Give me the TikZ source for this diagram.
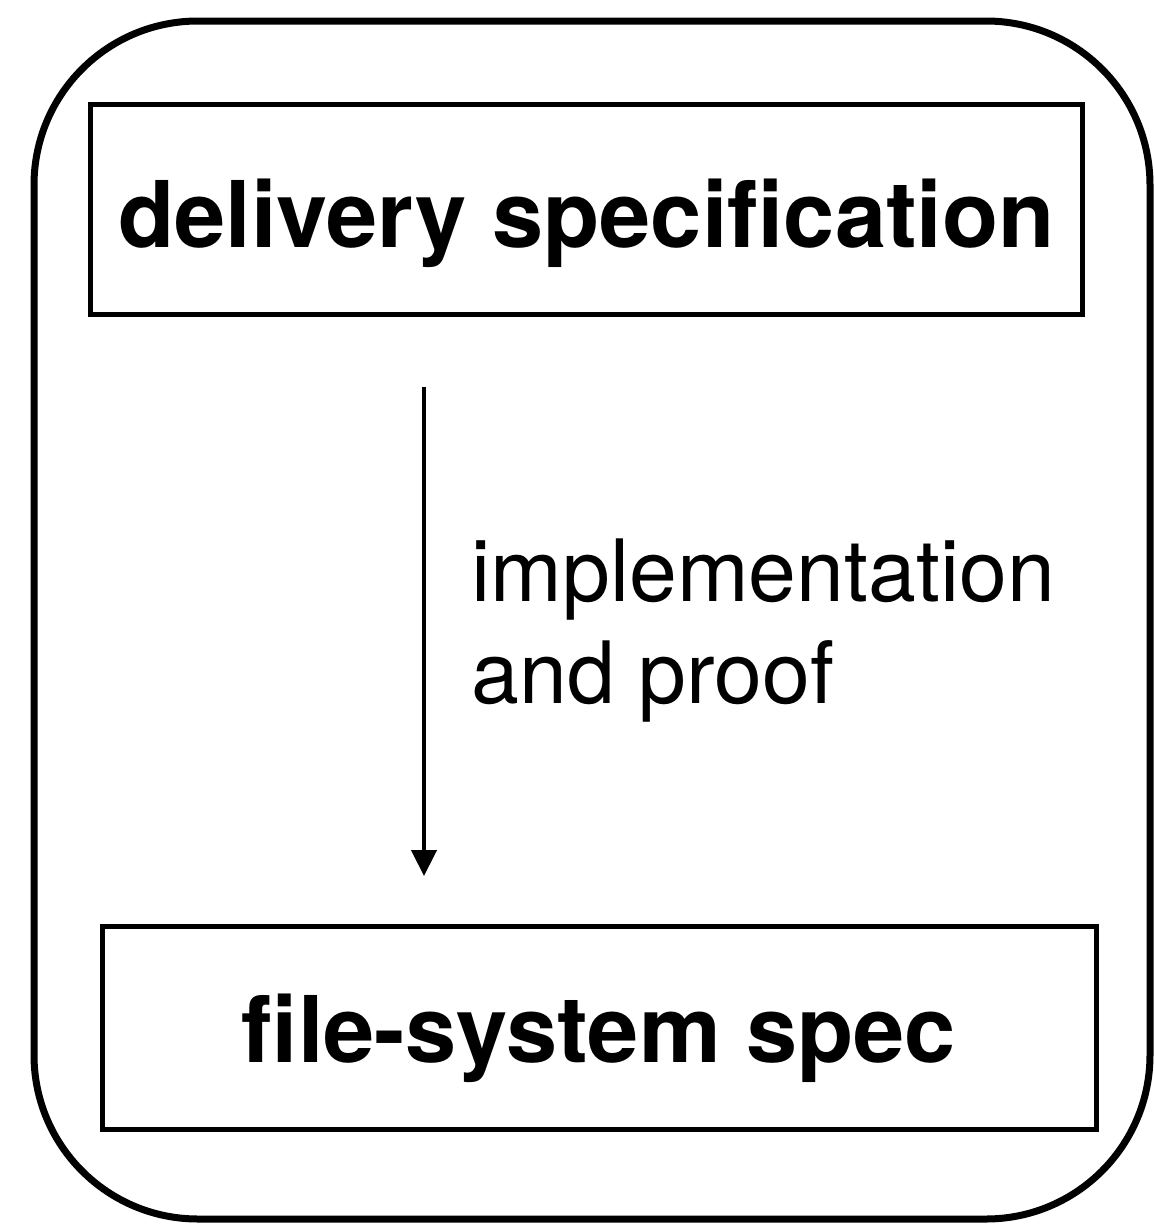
\documentclass[tikz,border=0pt]{standalone}
\usepackage{fontspec}
\setmainfont{TeX Gyre Heros}
\usetikzlibrary{arrows.meta}
\tikzset{
  specbox/.style={draw, line width=2.5pt, inner sep=0pt, text depth=0pt, font=\fontsize{46}{52}\selectfont\bfseries},
  frame/.style={draw, line width=3.5pt, rounded corners=82pt}
}

\begin{document}
\begin{tikzpicture}[x=0.5pt,y=-0.5pt]
\useasboundingbox (0,0) rectangle (1154,1226);
%outer frame
\draw[frame] (34,21) rectangle (1150,1219);

%boxes
\node[specbox, minimum width=496pt, minimum height=105pt, text height=38pt] (deliv) at (586.5,209) {delivery specification};
\node[specbox, minimum width=497pt, minimum height=101.5pt, text height=34.5pt] (fsspec) at (599,1027.5) {file-system spec};

%arrow
\coordinate (arrtop) at (424,387);
\coordinate (arrbot) at (424,876);
\draw[line width=2.2pt, -{Triangle[width=12.5pt,length=13pt]}] (arrtop) -- (arrbot);

%label
\node[anchor=base west, align=left, inner sep=0pt, font=\fontsize{43}{51}\selectfont] (impl) at (471,703) {implementation\\and proof};
\end{tikzpicture}
\end{document}
